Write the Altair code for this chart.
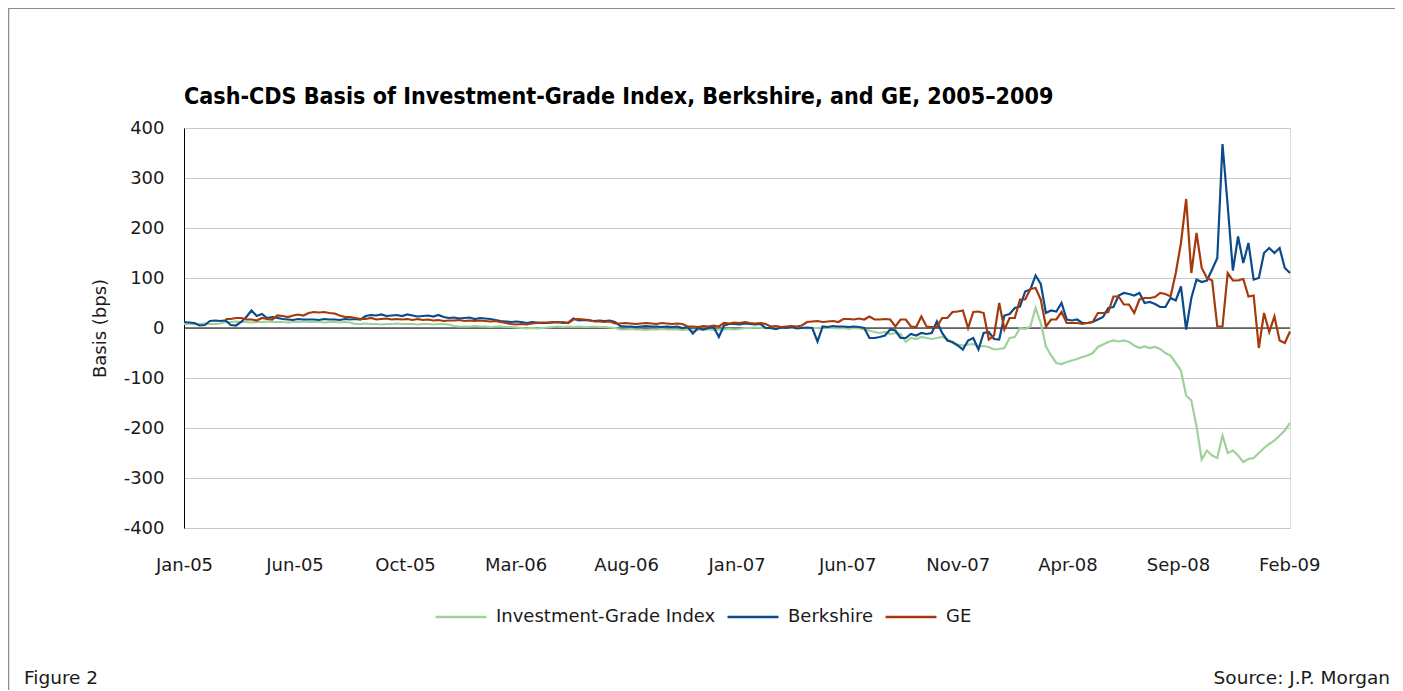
import altair as alt
import pandas as pd

TITLE = "Cash-CDS Basis of Investment-Grade Index, Berkshire, and GE, 2005\u20132009"
SERIES = ["Investment-Grade Index", "Berkshire", "GE"]
COLORS = ["#9fd19b", "#0b4a8b", "#a6390b"]
Y_TITLE = "Basis (bps)"
FOOT_LEFT = "Figure 2"
FOOT_RIGHT = "Source: J.P. Morgan"

START = "2005-01-03"          # weekly observations
END = "2009-02-02"
N_WEEKS = 214
TICK_DATES = ["2005-01-03", "2005-06-01", "2005-10-28", "2006-03-26", "2006-08-22",
              "2007-01-18", "2007-06-16", "2007-11-12", "2008-04-08", "2008-09-04",
              "2009-02-01"]
Y_TICKS = [-400, -300, -200, -100, 0, 100, 200, 300, 400]

IG = [8, 8, 8, 8, 9, 8, 8, 9, 12, 12,
      13, 12, 12, 11, 12, 12, 13, 12, 12, 12,
      11, 12, 12, 13, 12, 12, 12, 11, 12, 12,
      11, 12, 11, 8, 8, 9, 8, 8, 7, 8,
      8, 9, 8, 8, 8, 7, 8, 8, 7, 8,
      8, 7, 4, 3, 3, 3, 4, 3, 3, 2,
      3, 3, 2, 2, 1, 0, -1, 0, -1, 0,
      1, 2, 3, 2, 3, 2, 3, 2, 2, 3,
      2, 2, 1, 0, -3, -3, -2, -3, -3, -4,
      -3, -3, -2, -3, -3, -3, -4, -3, -5, -4,
      -3, -3, -4, -3, -3, -2, -3, -2, 0, 0,
      1, 0, 0, -1, 0, 0, 1, 0, 0, 0,
      -1, 0, 0, 1, 0, 0, -1, 0, -2, 0,
      -1, -3, -5, -8, -10, -8, -12, -10, -12, -28,
      -20, -22, -18, -20, -22, -20, -18, -22, -30, -33,
      -35, -33, -32, -37, -36, -38, -43, -42, -40, -20,
      -18, 0, -2, 3, 40, 10, -37, -55, -70, -72,
      -68, -65, -62, -58, -55, -50, -38, -33, -28, -25,
      -27, -25, -28, -35, -40, -37, -40, -38, -42, -50,
      -55, -70, -85, -135, -145, -197, -263, -245, -255, -260,
      -215, -250, -245, -255, -268, -262, -260, -250, -240, -232,
      -225, -215, -205, -190]

BRK = [12, 11, 10, 5, 6, 14, 15, 14, 15, 6,
       5, 12, 22, 35, 24, 28, 20, 22, 20, 18,
       17, 16, 18, 17, 17, 17, 16, 18, 17, 17,
       16, 18, 17, 18, 17, 24, 26, 25, 27, 24,
       25, 26, 24, 27, 25, 23, 24, 25, 23, 26,
       22, 20, 21, 19, 20, 21, 18, 20, 19, 18,
       16, 14, 13, 12, 13, 12, 10, 12, 11, 10,
       10, 11, 12, 10, 11, 19, 15, 16, 15, 14,
       15, 14, 15, 12, 4, 3, 3, 2, 3, 4,
       3, 3, 2, 3, 2, 3, 0, 2, -11, 0,
       -3, 0, 2, -18, 5, 8, 8, 7, 9, 8,
       7, 8, 0, 0, -2, 1, 0, 2, -1, 0,
       1, 0, -27, 3, 2, 4, 3, 3, 2, 3,
       2, 0, -20, -20, -18, -15, -3, -5, -20, -20,
       -12, -15, -10, -12, -10, 13, -10, -25, -28, -35,
       -43, -25, -20, -43, -10, -8, -22, -23, 25, 28,
       40, 43, 73, 77, 105, 88, 30, 35, 33, 50,
       17, 15, 17, 10, 10, 12, 17, 22, 40, 42,
       65, 70, 68, 65, 70, 50, 52, 48, 42, 42,
       60, 55, 83, -3, 60, 97, 92, 95, 117, 140,
       368, 245, 115, 183, 130, 170, 97, 100, 150, 160,
       150, 160, 120, 110]

GE = [None, None, None, None, None, None, None, None, 18, 18,
      20, 20, 17, 17, 15, 20, 18, 17, 25, 24,
      22, 25, 27, 25, 30, 32, 31, 32, 30, 29,
      25, 22, 22, 20, 18, 18, 20, 17, 18, 19,
      17, 18, 17, 18, 16, 18, 16, 17, 15, 16,
      14, 15, 15, 16, 14, 15, 14, 15, 14, 13,
      14, 12, 10, 8, 7, 8, 7, 9, 10, 11,
      11, 12, 11, 12, 10, 17, 18, 17, 16, 13,
      13, 12, 13, 9, 9, 10, 9, 8, 9, 10,
      9, 8, 10, 9, 8, 9, 8, 3, 3, 2,
      4, 3, 5, 3, 10, 9, 11, 10, 12, 10,
      9, 10, 8, 3, 4, 2, 3, 4, 3, 5,
      12, 13, 14, 12, 13, 14, 12, 18, 18, 17,
      19, 17, 23, 17, 17, 18, 17, 3, 17, 17,
      3, 2, 23, 3, 2, 2, 20, 20, 32, 33,
      35, 0, 32, 33, 30, -23, -15, 50, -3, 20,
      20, 57, 57, 78, 80, 57, 3, 17, 17, 32,
      10, 10, 10, 8, 10, 12, 30, 30, 32, 63,
      63, 47, 47, 30, 57, 60, 60, 62, 70, 68,
      63, 110, 170, 258, 110, 190, 120, 100, 95, 3,
      3, 110, 95, 95, 98, 63, 65, -40, 30, -8,
      23, -25, -30, -7]

dates = pd.date_range(START, periods=N_WEEKS, freq="7D")
rows = []
for name, vals in zip(SERIES, [IG, BRK, GE]):
    for d, v in zip(dates, vals):
        if v is not None:
            rows.append({"date": d, "series": name, "basis": v})
df = pd.DataFrame(rows)


def dt(s):
    t = pd.Timestamp(s)
    return alt.DateTime(year=t.year, month=t.month, date=t.day)


FONT = "DejaVu Sans"
TITLE_FONT = "DejaVu Sans Condensed, Liberation Sans Narrow, DejaVu Sans"

x_enc = alt.X("date:T",
              scale=alt.Scale(domain=[dt(START), dt(END)]),
              axis=alt.Axis(values=[dt(s) for s in TICK_DATES], format="%b-%y",
                            title=None, grid=False, domain=False, ticks=False,
                            labelPadding=28, labelFont=FONT, labelFontSize=18,
                            labelColor="#1a1a1a", labelOverlap=False, labelFlush=False))
y_enc = alt.Y("basis:Q",
              scale=alt.Scale(domain=[-400, 400], nice=False, zero=False),
              axis=alt.Axis(values=Y_TICKS, title=Y_TITLE, grid=True, gridColor="#c8c8c8",
                            gridWidth=1, domain=True, domainColor="#000000", domainWidth=1,
                            ticks=False, labelPadding=20, labelFont=FONT, labelFontSize=18,
                            labelExpr="'' + datum.value",
                            labelColor="#1a1a1a", titleFont=FONT, titleFontSize=18,
                            titleFontWeight="normal", titleColor="#1a1a1a", titlePadding=14))
color_enc = alt.Color("series:N",
                      scale=alt.Scale(domain=SERIES, range=COLORS),
                      legend=alt.Legend(title=None, orient="none", legendX=250, legendY=462,
                                        direction="horizontal", symbolType="stroke",
                                        symbolSize=2600, symbolStrokeWidth=2.5,
                                        labelFont=FONT, labelFontSize=18, labelColor="#1a1a1a",
                                        labelLimit=500, labelOffset=8, columnPadding=6,
                                        padding=0))

base = alt.Chart(df).encode(x=x_enc, y=y_enc, color=color_enc)

zero = alt.Chart(pd.DataFrame({"basis": [0]})).mark_rule(
    color="#000000", strokeWidth=1).encode(y="basis:Q")

lines = [base.transform_filter(alt.datum.series == s).mark_line(strokeWidth=2.2)
         for s in SERIES]

one = pd.DataFrame({"k": [0]})
frame_top = alt.Chart(one).mark_rule(color="#8c8c8c", strokeWidth=2).encode(
    x=alt.value(-176), x2=alt.value(1211), y=alt.value(-120))
frame_left = alt.Chart(one).mark_rule(color="#8c8c8c", strokeWidth=1.5).encode(
    x=alt.value(-175.5), y=alt.value(-121), y2=alt.value(570))

title = alt.Chart(pd.DataFrame({"t": [TITLE]})).mark_text(
    align="left", baseline="alphabetic", font=TITLE_FONT, fontSize=23.1, fontWeight="bold",
    color="#000000").encode(text="t:N", x=alt.value(0), y=alt.value(-24))

foot_left = alt.Chart(pd.DataFrame({"t": [FOOT_LEFT]})).mark_text(
    align="left", baseline="alphabetic", font=FONT, fontSize=18.5, color="#1a1a1a").encode(
    text="t:N", x=alt.value(-160), y=alt.value(556))
foot_right = alt.Chart(pd.DataFrame({"t": [FOOT_RIGHT]})).mark_text(
    align="right", baseline="alphabetic", font=FONT, fontSize=18.5, color="#1a1a1a").encode(
    text="t:N", x=alt.value(1206), y=alt.value(556))

chart = alt.layer(frame_top, frame_left, zero, *lines, title, foot_left, foot_right).properties(
    width=1106, height=400,
    padding={"left": 176, "top": 120, "right": 105, "bottom": 162},
    autosize=alt.AutoSizeParams(type="none"),
).configure_view(stroke=None).configure(background="white")

chart.save("out.html", embed_options={"renderer": "svg", "actions": False})
